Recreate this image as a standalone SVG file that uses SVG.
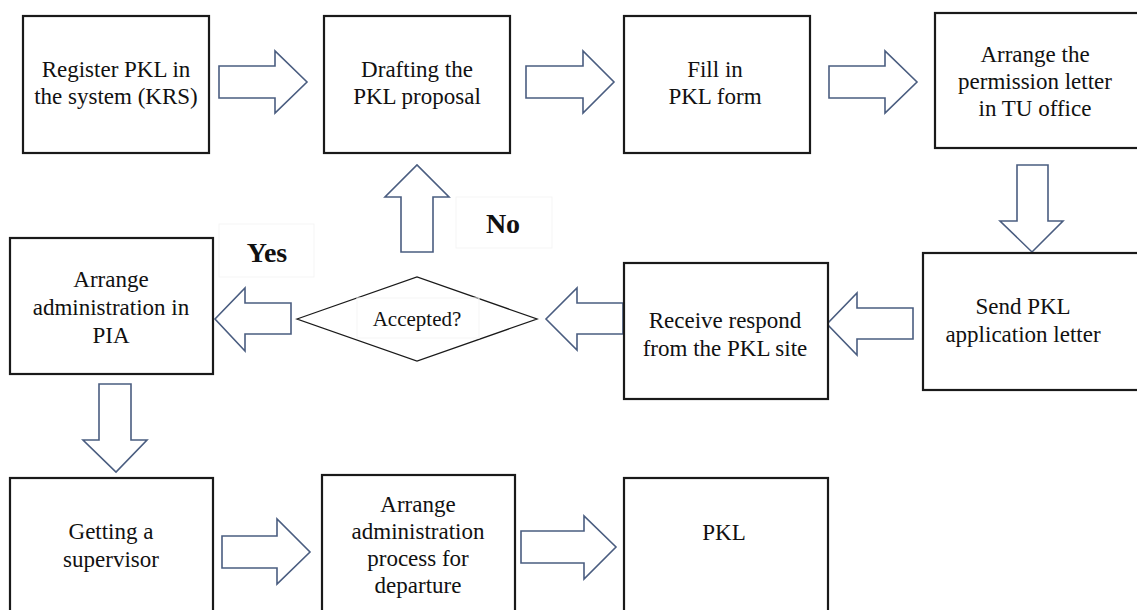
<svg xmlns="http://www.w3.org/2000/svg" width="1137" height="610" viewBox="0 0 1137 610">
<style>
.box{fill:#fff;stroke:#1a1a1a;stroke-width:2.2}
.dia{fill:#fff;stroke:#1a1a1a;stroke-width:1.3}
.arr{fill:#fff;stroke:#4a5d80;stroke-width:1.6;stroke-linejoin:miter}
.faint{fill:none;stroke:#f5f5f5;stroke-width:1}
.lbl{font-family:'Liberation Serif','Times New Roman',Tinos,'DejaVu Serif',serif;fill:#111;text-anchor:middle}
.t{font-size:23px}
.s{font-size:21px}
.b{font-size:28px;font-weight:bold}
</style>
<rect width="1137" height="610" fill="#fff"/>
<g id="connectors">
<polygon class="arr" points="219,66 275,66 275,51 307,82 275,113 275,98 219,98"/>
<polygon class="arr" points="526,66 583,66 583,51 614,82 583,113 583,98 526,98"/>
<polygon class="arr" points="829,66 885,66 885,51 917,82 885,113 885,98 829,98"/>
<polygon class="arr" points="1017,165 1048,165 1048,221 1063,221 1032,252 1000,221 1017,221"/>
<polygon class="arr" points="913,308 857,308 857,293 827,324 857,355 857,339 913,339"/>
<polygon class="arr" points="623,303 577,303 577,288 546,319 577,350 577,334 623,334"/>
<polygon class="arr" points="401,252 401,197 385,197 417,165 449,197 433,197 433,252"/>
<polygon class="arr" points="291,303 245,303 245,288 215,319 245,351 245,334 291,334"/>
<polygon class="arr" points="99,384 131,384 131,440 147,440 116,472 83,440 99,440"/>
<polygon class="arr" points="222,536 277,536 277,519 310,552 277,584 277,568 222,568"/>
<polygon class="arr" points="521,531 584,531 584,516 616,547 584,579 584,563 521,563"/>
<rect class="faint" x="219" y="224" width="95" height="53"/>
<text class="lbl b" font-family="Liberation Serif, serif" x="267" y="262">Yes</text>
<rect class="faint" x="456" y="197" width="96" height="51"/>
<text class="lbl b" font-family="Liberation Serif, serif" x="503" y="233">No</text>
</g>
<g id="register" class="lbl" font-family="Liberation Serif, serif">
<rect class="box" x="23" y="16" width="186" height="137"/>
<text class="lbl t" x="116" y="77">Register PKL in</text>
<text class="lbl t" x="116" y="104">the system (KRS)</text>
</g>
<g id="drafting" font-family="Liberation Serif, serif">
<rect class="box" x="324" y="16" width="186" height="137"/>
<text class="lbl t" x="417" y="77">Drafting the</text>
<text class="lbl t" x="417" y="104">PKL proposal</text>
</g>
<g id="fill-form" font-family="Liberation Serif, serif">
<rect class="box" x="624" y="16" width="186" height="137"/>
<text class="lbl t" x="715" y="77">Fill in</text>
<text class="lbl t" x="715" y="104">PKL form</text>
</g>
<g id="permission" font-family="Liberation Serif, serif">
<rect class="box" x="935" y="13" width="210" height="135"/>
<text class="lbl t" x="1035" y="62">Arrange the</text>
<text class="lbl t" x="1035" y="89">permission letter</text>
<text class="lbl t" x="1035" y="116">in TU office</text>
</g>
<g id="send" font-family="Liberation Serif, serif">
<rect class="box" x="923" y="253" width="222" height="137"/>
<text class="lbl t" x="1023" y="314">Send PKL</text>
<text class="lbl t" x="1023" y="342">application letter</text>
</g>
<g id="receive" font-family="Liberation Serif, serif">
<rect class="box" x="624" y="263" width="204" height="136"/>
<text class="lbl t" x="725" y="328">Receive respond</text>
<text class="lbl t" x="725" y="356">from the PKL site</text>
</g>
<g id="accepted" font-family="Liberation Serif, serif">
<polygon class="dia" points="297,319 417,277 537,319 417,361"/>
<rect class="faint" x="357" y="298" width="122" height="40"/>
<text class="lbl s" x="417" y="326">Accepted?</text>
</g>
<g id="arrange-pia" font-family="Liberation Serif, serif">
<rect class="box" x="10" y="238" width="203" height="136"/>
<text class="lbl t" x="111" y="287">Arrange</text>
<text class="lbl t" x="111" y="315">administration in</text>
<text class="lbl t" x="111" y="343">PIA</text>
</g>
<g id="supervisor" font-family="Liberation Serif, serif">
<rect class="box" x="10" y="478" width="203" height="140"/>
<text class="lbl t" x="111" y="539">Getting a</text>
<text class="lbl t" x="111" y="567">supervisor</text>
</g>
<g id="departure" font-family="Liberation Serif, serif">
<rect class="box" x="322" y="475" width="193" height="143"/>
<text class="lbl t" x="418" y="512">Arrange</text>
<text class="lbl t" x="418" y="539">administration</text>
<text class="lbl t" x="418" y="566">process for</text>
<text class="lbl t" x="418" y="593">departure</text>
</g>
<g id="pkl" font-family="Liberation Serif, serif">
<rect class="box" x="624" y="478" width="204" height="140"/>
<text class="lbl t" x="724" y="540">PKL</text>
</g>
</svg>
